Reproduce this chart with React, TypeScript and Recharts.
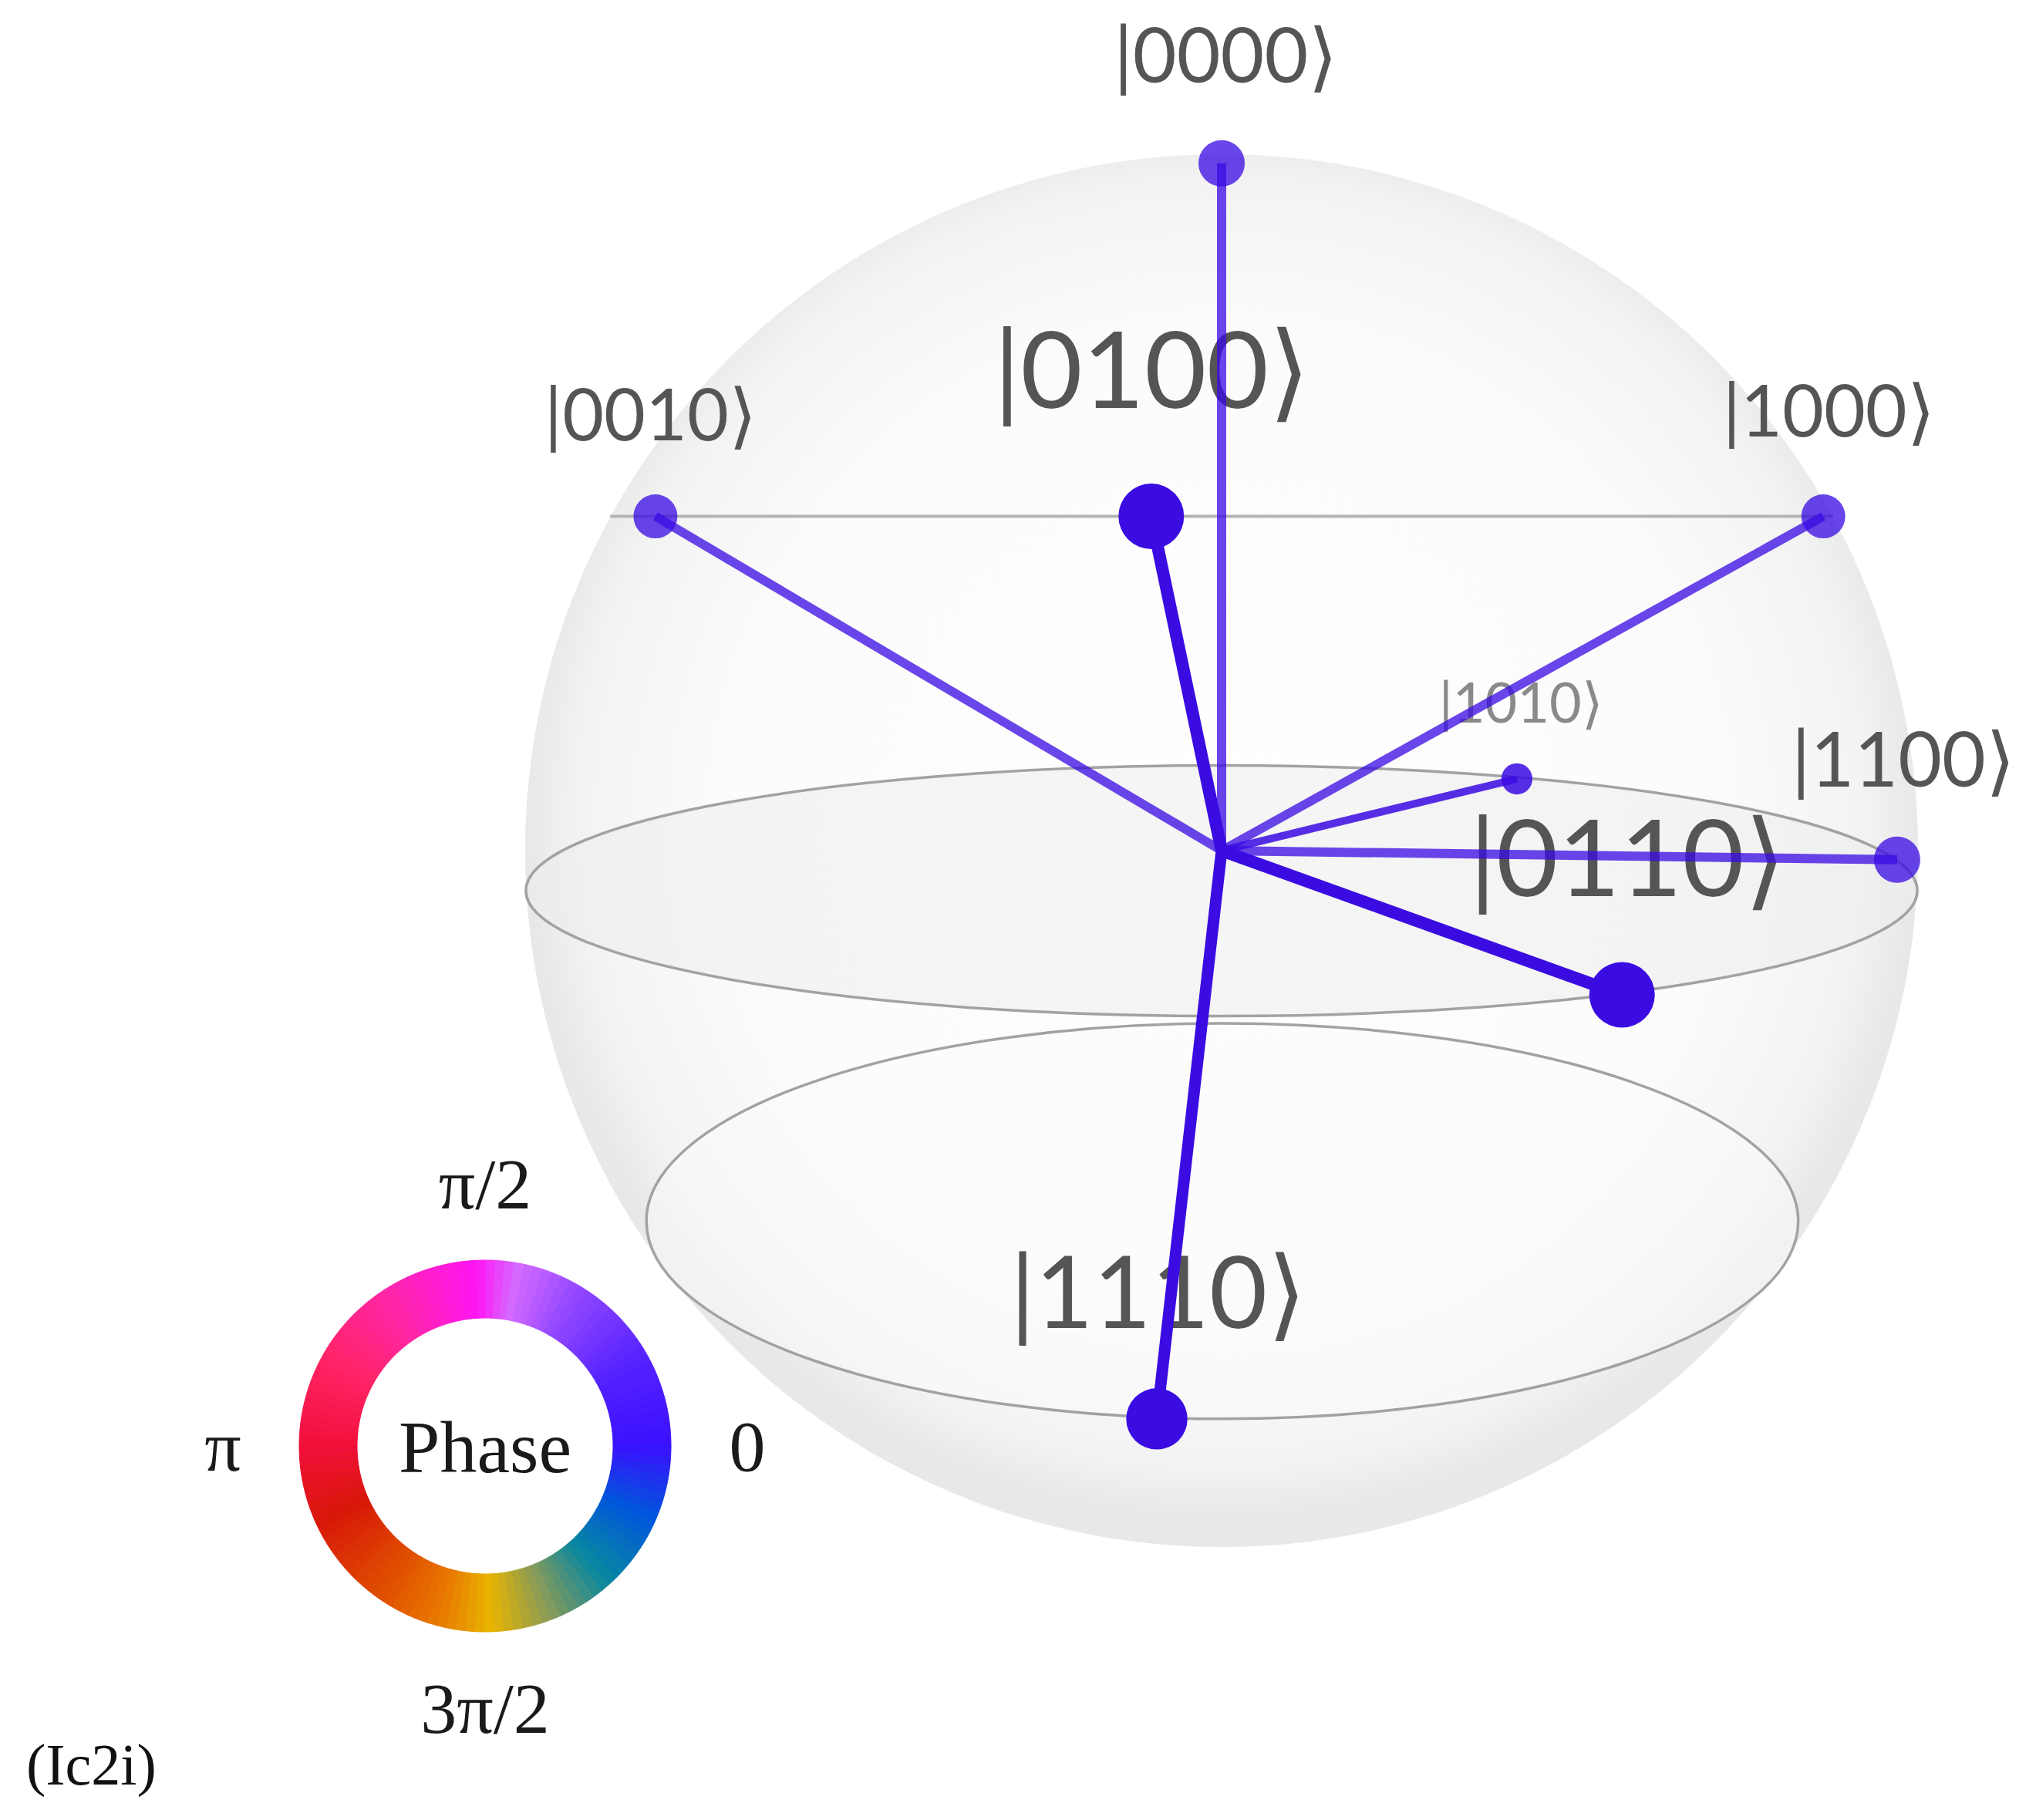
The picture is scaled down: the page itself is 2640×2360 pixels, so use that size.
import React from 'react';
import {
  ComposedChart,
  XAxis,
  YAxis,
  Scatter,
  ReferenceDot,
  PieChart,
  Pie,
  Cell,
  Label,
} from 'recharts';

// ---------- data ----------
const stateLabels = ['|0000⟩', '|0010⟩', '|0100⟩', '|1000⟩', '|1010⟩', '|1100⟩', '|0110⟩', '|1110⟩'];
// projected positions on the unit Q-sphere (x to the right, y up)
const stateX = [0.0, -0.813, -0.101, 0.864, 0.424, 0.97, 0.575, -0.093];
const stateY = [0.987, 0.48, 0.48, 0.48, 0.103, -0.013, -0.207, -0.816];
const stateProb = [0.1, 0.09, 0.2, 0.09, 0.045, 0.1, 0.2, 0.175];
const statePhase = [0, 0, 0, 0, 0, 0, 0, 0];
// label anchor positions (sphere units)
const labelX = [0.006, -0.82, -0.1, 0.872, 0.43, 0.979, 0.583, -0.091];
const labelY = [1.145, 0.629, 0.695, 0.635, 0.215, 0.134, -0.006, -0.63];

// sphere guide curves: [centerX, centerY, radiusX, radiusY]
const ringCX = [0.0, 0.001];
const ringCY = [-0.0576, -0.532];
const ringRX = [0.999, 0.827];
const ringRY = [0.18, 0.284];
// upper latitude seen edge-on
const latY = 0.48;
const latHalfWidth = 0.878;

const phaseTicks = ['0', 'π/2', 'π', '3π/2'];
const wheelSegments = 120;

// ---------- layout ----------
const W = 2640;
const H = 2360;
const PX = 903; // pixels per sphere radius
const ORIGIN_X = 1584;
const ORIGIN_Y = 1103;
const X_DOMAIN: [number, number] = [-ORIGIN_X / PX, (W - ORIGIN_X) / PX];
const Y_DOMAIN: [number, number] = [-(H - ORIGIN_Y) / PX, ORIGIN_Y / PX];

const RING_CX = 629;
const RING_CY = 1875;
const PIE_SIZE = 900;

// colour wheel stops [angleDeg, colour]
const WHEEL_STOPS: [number, string][] = [
  [0, '#3a10ff'],
  [30, '#5522ff'],
  [60, '#9448ff'],
  [80, '#d66aff'],
  [93, '#ff14f4'],
  [120, '#ff26b0'],
  [150, '#ff2468'],
  [180, '#f2103a'],
  [205, '#d81808'],
  [235, '#e04e00'],
  [255, '#e87800'],
  [272, '#e8b400'],
  [292, '#849a5c'],
  [312, '#0888a0'],
  [337, '#0056dc'],
  [360, '#3a10ff'],
];

const hex = (c: string) => [1, 3, 5].map((i) => parseInt(c.slice(i, i + 2), 16));
const wheelColor = (deg: number) => {
  const a = ((deg % 360) + 360) % 360;
  for (let i = 0; i < WHEEL_STOPS.length - 1; i++) {
    const [a0, c0] = WHEEL_STOPS[i];
    const [a1, c1] = WHEEL_STOPS[i + 1];
    if (a >= a0 && a <= a1) {
      const t = (a - a0) / (a1 - a0);
      const p = hex(c0);
      const q = hex(c1);
      const m = p.map((v, k) => Math.round(v + (q[k] - v) * t));
      return `rgb(${m[0]},${m[1]},${m[2]})`;
    }
  }
  return WHEEL_STOPS[0][1];
};

const stateData = stateLabels.map((name, i) => ({
  name,
  x: stateX[i],
  y: stateY[i],
  p: stateProb[i],
  phase: statePhase[i],
}));
const labelData = stateLabels.map((name, i) => ({
  name,
  x: labelX[i],
  y: labelY[i],
  p: stateProb[i],
}));
const wheelData = Array.from({ length: wheelSegments }, (_, i) => ({ v: 1, i }));
const tickData = phaseTicks.map((name) => ({ name, v: 1 }));
const latData = [
  { x: -latHalfWidth, y: latY },
  { x: latHalfWidth, y: latY },
];

const DOT_COLOR = '#3a0ce2';
const alphaFor = (p: number) => (p >= 0.15 ? 1 : p >= 0.07 ? 0.76 : 0.86);
const noShape = () => <g />;

const sphereShape = (props: any) => (
  <ellipse cx={props.cx} cy={props.cy} rx={PX} ry={PX} fill="url(#sphereGrad)" stroke="none" />
);

const ringShape = (i: number) => (props: any) => (
  <ellipse
    cx={props.cx}
    cy={props.cy}
    rx={ringRX[i] * PX}
    ry={ringRY[i] * PX}
    fill={i === 0 ? '#ececec' : '#fbfbfb'}
    fillOpacity={i === 0 ? 0.55 : 0.5}
    stroke="#a2a2a2"
    strokeWidth={3.5}
  />
);

const DotShape = (props: any) => {
  const { cx, cy, payload } = props;
  const r = 95 * Math.sqrt(payload.p);
  return (
    <circle cx={cx} cy={cy} r={r} fill={DOT_COLOR} fillOpacity={alphaFor(payload.p)} stroke="none" />
  );
};

const LabelShape = (props: any) => {
  const { cx, cy, payload } = props;
  const fs = Math.max(72, 310 * Math.sqrt(payload.p));
  return (
    <text
      x={cx}
      y={cy}
      textAnchor="middle"
      dominantBaseline="central"
      fontFamily="Lato, 'DejaVu Sans', sans-serif"
      fontSize={fs}
      fill={payload.p < 0.07 ? '#8a8a8a' : '#555555'}
    >
      {payload.name}
    </text>
  );
};

const RADIAN = Math.PI / 180;
const tickLabel = (props: any) => {
  const { cx, cy, midAngle, index } = props;
  const rr = 340;
  const x = cx + rr * Math.cos(-midAngle * RADIAN);
  const y = cy + rr * Math.sin(-midAngle * RADIAN);
  return (
    <text
      x={x}
      y={y}
      textAnchor="middle"
      dominantBaseline="central"
      fontFamily="'Liberation Serif', 'Times New Roman', serif"
      fontSize={94}
      fill="#1a1a1a"
    >
      {phaseTicks[index]}
    </text>
  );
};

export default function App() {
  return (
    <div style={{ position: 'absolute', left: 0, top: 0, width: W, height: H, background: '#ffffff' }}>
      <div style={{ position: 'absolute', left: 0, top: 0 }}>
        <ComposedChart width={W} height={H} margin={{ top: 0, right: 0, bottom: 0, left: 0 }}>
          <defs>
            <radialGradient id="sphereGrad" cx="50%" cy="48%" r="50%">
              <stop offset="0%" stopColor="#ffffff" />
              <stop offset="72%" stopColor="#fbfbfb" />
              <stop offset="92%" stopColor="#f3f3f3" />
              <stop offset="100%" stopColor="#e8e8e8" />
            </radialGradient>
          </defs>
          <XAxis type="number" dataKey="x" domain={X_DOMAIN} allowDataOverflow hide />
          <YAxis type="number" dataKey="y" domain={Y_DOMAIN} allowDataOverflow hide />
          <ReferenceDot x={0} y={0} r={10} shape={sphereShape} ifOverflow="visible" />
          {ringCX.map((cx, i) => (
            <ReferenceDot key={'ring' + i} x={cx} y={ringCY[i]} r={10} shape={ringShape(i)} ifOverflow="visible" />
          ))}
          <Scatter
            data={latData}
            dataKey="y"
            line={{ stroke: '#b4b4b4', strokeWidth: 4 }}
            shape={noShape}
            isAnimationActive={false}
          />
          <Scatter data={labelData} dataKey="y" shape={LabelShape} isAnimationActive={false} />
          {stateData.map((s) => (
            <Scatter
              key={'stem' + s.name}
              data={[
                { x: 0, y: 0 },
                { x: s.x, y: s.y },
              ]}
              dataKey="y"
              line={{ stroke: DOT_COLOR, strokeOpacity: alphaFor(s.p), strokeWidth: 8 + 40 * s.p }}
              shape={noShape}
              isAnimationActive={false}
            />
          ))}
          <Scatter data={stateData} dataKey="y" shape={DotShape} isAnimationActive={false} />
        </ComposedChart>
      </div>
      <div style={{ position: 'absolute', left: RING_CX - PIE_SIZE / 2, top: RING_CY - PIE_SIZE / 2 }}>
        <PieChart width={PIE_SIZE} height={PIE_SIZE} margin={{ top: 0, right: 0, bottom: 0, left: 0 }}>
          <Pie
            data={wheelData}
            dataKey="v"
            cx={PIE_SIZE / 2}
            cy={PIE_SIZE / 2}
            innerRadius={166}
            outerRadius={241}
            startAngle={0}
            endAngle={360}
            paddingAngle={0}
            isAnimationActive={false}
            stroke="none"
          >
            {wheelData.map((d) => {
              const c = wheelColor((d.i + 0.5) * (360 / wheelSegments));
              return <Cell key={'w' + d.i} fill={c} stroke={c} strokeWidth={1} />;
            })}
            <Label
              value="Phase"
              position="center"
              fontFamily="'Liberation Serif', 'Times New Roman', serif"
              fontSize={96}
              fill="#1a1a1a"
            />
          </Pie>
          <Pie
            data={tickData}
            dataKey="v"
            cx={PIE_SIZE / 2}
            cy={PIE_SIZE / 2}
            innerRadius={300}
            outerRadius={301}
            startAngle={-45}
            endAngle={315}
            fill="none"
            stroke="none"
            label={tickLabel}
            labelLine={false}
            isAnimationActive={false}
          />
        </PieChart>
      </div>
      <div
        style={{
          position: 'absolute',
          left: 34,
          top: 2240,
          fontFamily: "'Liberation Serif', 'Times New Roman', serif",
          fontSize: 76,
          lineHeight: '96px',
          color: '#111',
        }}
      >
        (Ic2i)
      </div>
    </div>
  );
}
